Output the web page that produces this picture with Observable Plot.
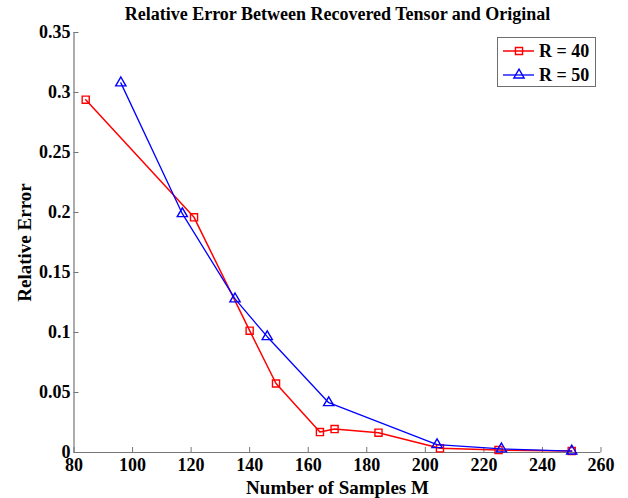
<!DOCTYPE html>
<html>
<head>
<meta charset="utf-8">
<script src="https://cdn.jsdelivr.net/npm/d3@7"></script>
<script src="https://cdn.jsdelivr.net/npm/@observablehq/plot@0.6"></script>
<style>
  html, body { margin: 0; padding: 0; background: #fff; }
  #wrap { position: relative; width: 628px; height: 498px; }
  #legend {
    position: absolute; left: 497px; top: 37px; width: 99px; height: 50px;
    border: 1px solid #6e6e6e; background: #fff; box-sizing: border-box;
    font-family: "Liberation Serif", "Times New Roman", serif; font-weight: bold; font-size: 18px;
  }
  .row { position: absolute; left: 0; height: 22px; display: flex; align-items: center; }
  .row svg { display: block; }
  .row span { margin-left: 5px; line-height: 22px; color: #000; }
</style>
</head>
<body>
<div id="wrap"></div>
<script>
const title = "Relative Error Between Recovered Tensor and Original";
const xLabel = "Number of Samples M";
const yLabel = "Relative Error";

const seriesNames = ["R = 40", "R = 50"];
const seriesColors = ["#ff0000", "#0000ff"];
const seriesSymbols = ["square", "triangle"];

const x40 = [84, 121, 140, 149, 164, 169, 184, 205, 225, 250];
const y40 = [0.294, 0.196, 0.1015, 0.0575, 0.017, 0.0195, 0.0165, 0.0035, 0.002, 0.0012];
const x50 = [96, 117, 135, 146, 167, 204, 226, 250];
const y50 = [0.308, 0.199, 0.128, 0.0965, 0.0415, 0.0065, 0.003, 0.0012];

const xTicks = [80, 100, 120, 140, 160, 180, 200, 220, 240, 260];
const yTicks = [0, 0.05, 0.1, 0.15, 0.2, 0.25, 0.3, 0.35];
const yTickLabels = ["0", "0.05", "0.1", "0.15", "0.2", "0.25", "0.3", "0.35"];

const data40 = x40.map((x, i) => ({x, y: y40[i], s: seriesNames[0]}));
const data50 = x50.map((x, i) => ({x, y: y50[i], s: seriesNames[1]}));

const font = "Liberation Serif";
const axisGray = "#767676";

const chart = Plot.plot({
  width: 628,
  height: 498,
  marginLeft: 73.5,
  marginRight: 27.5,
  marginTop: 32,
  marginBottom: 46,
  style: {fontFamily: font, fontWeight: "bold", fontSize: "18px", color: "#000", background: "#fff"},
  x: {domain: [80, 260]},
  y: {domain: [0, 0.35]},
  marks: [
    Plot.axisX({ticks: xTicks, tickSize: 0, tickPadding: 6, tickFormat: d => String(d), label: null, fontSize: 18, fontWeight: "bold", fontFamily: font}),
    Plot.axisY({ticks: yTicks, tickSize: 0, tickPadding: 3.5, tickFormat: (d, i) => yTickLabels[i], label: null, fontSize: 18, fontWeight: "bold", fontFamily: font}),
    Plot.ruleX(xTicks, {x: d => d, stroke: axisGray, insetTop: 415}),
    Plot.ruleY(yTicks, {y: d => d, stroke: axisGray, insetRight: 522}),
    Plot.ruleX([80], {stroke: axisGray, strokeWidth: 1.2}),
    Plot.ruleY([0], {stroke: axisGray, strokeWidth: 1.2}),
    Plot.line(data40, {x: "x", y: "y", stroke: seriesColors[0], strokeWidth: 1.5}),
    Plot.dot(data40, {x: "x", y: "y", symbol: seriesSymbols[0], r: 4, stroke: seriesColors[0], strokeWidth: 1.4, fill: "none"}),
    Plot.line(data50, {x: "x", y: "y", stroke: seriesColors[1], strokeWidth: 1.3}),
    Plot.dot(data50, {x: "x", y: "y", symbol: seriesSymbols[1], r: 3.8, stroke: seriesColors[1], strokeWidth: 1.4, fill: "none"}),
    Plot.text([title], {text: d => d, frameAnchor: "top", textAnchor: "middle", dy: -18, lineAnchor: "middle", fontSize: 18, fontWeight: "bold", fontFamily: font, fill: "#000"}),
    Plot.text([xLabel], {text: d => d, frameAnchor: "bottom", textAnchor: "middle", dy: 41, lineAnchor: "bottom", fontSize: 19, fontWeight: "bold", fontFamily: font, fill: "#000"}),
    Plot.text([yLabel], {text: d => d, frameAnchor: "left", textAnchor: "middle", dx: -49, rotate: -90, lineAnchor: "middle", fontSize: 19, fontWeight: "bold", fontFamily: font, fill: "#000"})
  ]
});

const wrap = document.getElementById("wrap");
wrap.appendChild(chart);

// Legend
const legend = document.createElement("div");
legend.id = "legend";
seriesNames.forEach((name, i) => {
  const row = document.createElement("div");
  row.className = "row";
  row.style.top = (2 + i * 24) + "px";
  const sw = d3.create("svg").attr("width", 36).attr("height", 22);
  sw.append("line").attr("x1", 5).attr("x2", 36).attr("y1", 11).attr("y2", 11)
    .attr("stroke", seriesColors[i]).attr("stroke-width", i === 0 ? 1.5 : 1.3);
  const sym = seriesSymbols[i] === "square" ? d3.symbolSquare : d3.symbolTriangle;
  const r = i === 0 ? 4 : 3.8;
  sw.append("path").attr("d", d3.symbol(sym, Math.PI * r * r)())
    .attr("transform", "translate(21,11)")
    .attr("fill", "none").attr("stroke", seriesColors[i]).attr("stroke-width", 1.4);
  row.appendChild(sw.node());
  const t = document.createElement("span");
  t.textContent = name;
  row.appendChild(t);
  legend.appendChild(row);
});
wrap.appendChild(legend);
</script>
</body>
</html>
